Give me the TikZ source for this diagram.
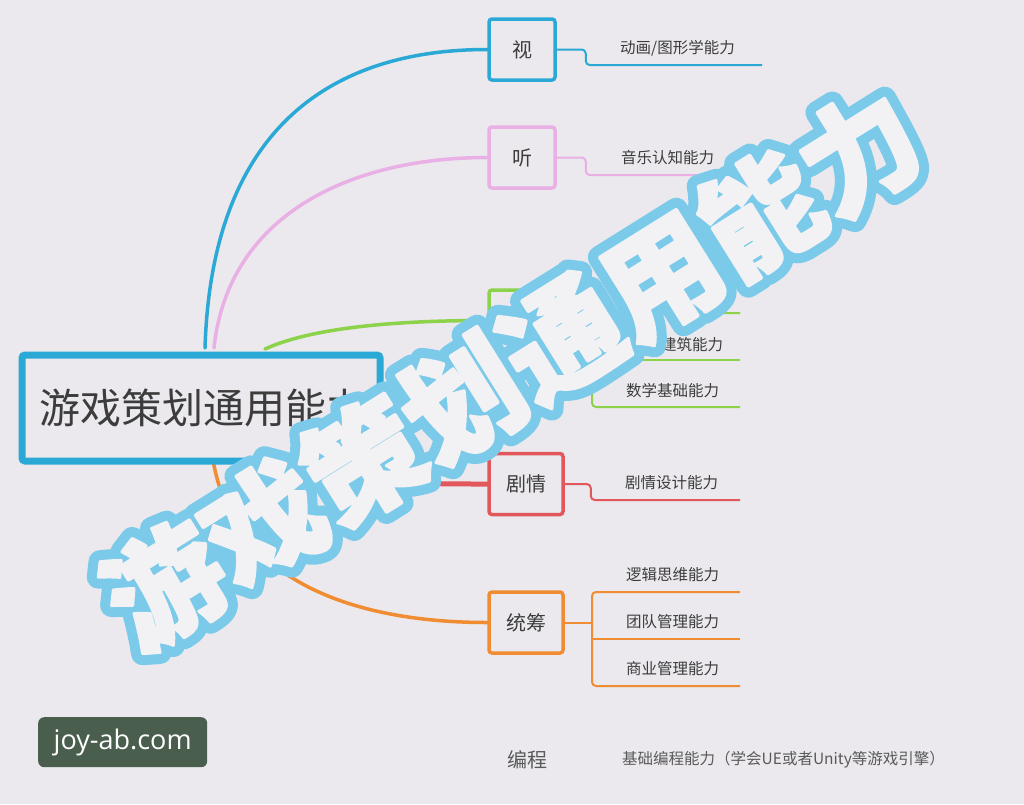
\documentclass[tikz,border=0pt]{standalone}
\usepackage{fontspec}
\setmainfont{Noto Sans CJK SC}
\newfontfamily\ovfont{Noto Sans CJK SC}
\newfontfamily\wmfont{Open Sans}
\usetikzlibrary{calc}
\definecolor{bg}{HTML}{EBE9ED}
\definecolor{txt}{HTML}{3C3C3C}
\definecolor{cblue}{HTML}{2BA9D6}
\definecolor{cpink}{HTML}{E8B0E4}
\definecolor{cgreen}{HTML}{8CD24A}
\definecolor{cred}{HTML}{E2575C}
\definecolor{corange}{HTML}{F08C32}
\definecolor{ovblue}{HTML}{7CCAEA}
\definecolor{ovwhite}{HTML}{F2F1F4}
\definecolor{wmgreen}{HTML}{4A5E4E}
\tikzset{
  box/.style={draw=#1, line width=3.5, rounded corners=3, minimum width=66, minimum height=61, inner sep=0, font=\fontsize{20}{20}\selectfont, text=txt, fill=bg},
  wbox/.style={box=#1, minimum width=74},
  branch/.style={draw=#1, line width=3.5, line cap=round},
  sub/.style={draw=#1, line width=2, rounded corners=4},
  lab/.style={anchor=west, inner sep=0, font=\fontsize{15.5}{15.5}\selectfont, text=txt},
  ovtext/.style={rotate=32, inner sep=0, font=\ovfont\bfseries\fontsize{117}{117}\selectfont}
}
\begin{document}
\begin{tikzpicture}[x=1pt,y=-1pt]
\fill[bg] (0,0) rectangle (1024,804);
\useasboundingbox (0,0) rectangle (1024,804);

% branch curves
\coordinate (rb) at (205,348);
\coordinate (rp) at (214,348);
\coordinate (rg) at (265,349);
\coordinate (rr) at (300,460);
\coordinate (ro) at (213,460);
\node[box=cblue] (shi) at (522,49.5) {视};
\node[box=cpink] (ting) at (522,157.5) {听};
\node[box=cgreen] (kong) at (522,320.5) {};
\node[wbox=cred] (ju) at (526,484) {剧情};
\node[wbox=corange] (tong) at (526,622.5) {统筹};

\draw[branch=cblue] (rb) .. controls (212,120) and (340,49.5) .. (shi.west);
\draw[branch=cpink] (rp) .. controls (228,215) and (350,157.5) .. (ting.west);
\draw[branch=cgreen] (rg) .. controls (320,324) and (420,320.5) .. (kong.west);
\draw[branch=cred, line width=5] (rr) .. controls (340,484) and (420,484) .. (ju.west);
\draw[branch=corange] (ro) .. controls (235,590) and (370,622.5) .. (tong.west);

% root
\node[draw=cblue, line width=7, rounded corners=3, fill=bg, anchor=north west, minimum width=358, minimum height=106, inner xsep=17, inner ysep=0, text width=324, align=left, font=\fontsize{41}{41}\selectfont, text=txt] (root) at (18.5,351.5) {游戏策划通用能力};

% sub lines
\coordinate (e1) at (762,65);
\coordinate (e2) at (740,175);
\coordinate (g1) at (740,313);
\coordinate (g2) at (740,360);
\coordinate (g3) at (740,407);
\coordinate (e4) at (740,500);
\coordinate (o1) at (740,592);
\coordinate (o2) at (740,639);
\coordinate (o3) at (740,686);
\draw[sub=cblue] (shi.east) -- ++(29,0) |- (e1);
\draw[sub=cpink] (ting.east) -- ++(29,0) |- (e2);
\draw[sub=cgreen] (kong.east) -- (592,320.5);
\draw[sub=cgreen] (g1) -- (592,313) -- (592,407) -- (g3);
\draw[sub=cgreen] (592,360) -- (g2);
\draw[sub=cred] (ju.east) -- ++(26,0) |- (e4);
\draw[sub=corange] (tong.east) -- (592,622.5);
\draw[sub=corange] (o1) -- (592,592) -- (592,686) -- (o3);
\draw[sub=corange] (592,639) -- (o2);

% labels
\node[lab] (l1) at (620,48) {动画/图形学能力};
\node[lab] (l2) at (621,158) {音乐认知能力};
\node[lab] (l3) at (661,345) {建筑能力};
\node[lab] (l4) at (626,391) {数学基础能力};
\node[lab] (l5) at (625,483) {剧情设计能力};
\node[lab] (l6) at (626,575) {逻辑思维能力};
\node[lab] (l7) at (626,622) {团队管理能力};
\node[lab] (l8) at (626,669) {商业管理能力};
\node[inner sep=0, font=\fontsize{20}{20}\selectfont, text=txt!85] (bc) at (527,760) {编程};
\node[lab, text=txt!85] (l9) at (622,760) {基础编程能力（学会UE或者Unity等游戏引擎）};

% watermark
\node[fill=wmgreen, rounded corners=6, anchor=north west, minimum width=169, minimum height=50, inner sep=0, text=white, font=\wmfont\fontsize{27}{27}\selectfont] (wm) at (38,717) {joy-ab.com};

% overlay: blue stroked copy, then light fill on top
\coordinate (ov) at (512,368);
\node[ovtext, text=ovblue] (ovs) at (ov) {\special{pdf:literal direct 2 Tr 23 w 1 j 1 J}游戏策划通用能力\special{pdf:literal direct 0 Tr}};
\node[ovtext, text=ovwhite] (ovt) at (ov) {\special{pdf:literal direct 2 Tr 3 w 1 j 1 J}游戏策划通用能力\special{pdf:literal direct 0 Tr}};
\end{tikzpicture}
\end{document}
